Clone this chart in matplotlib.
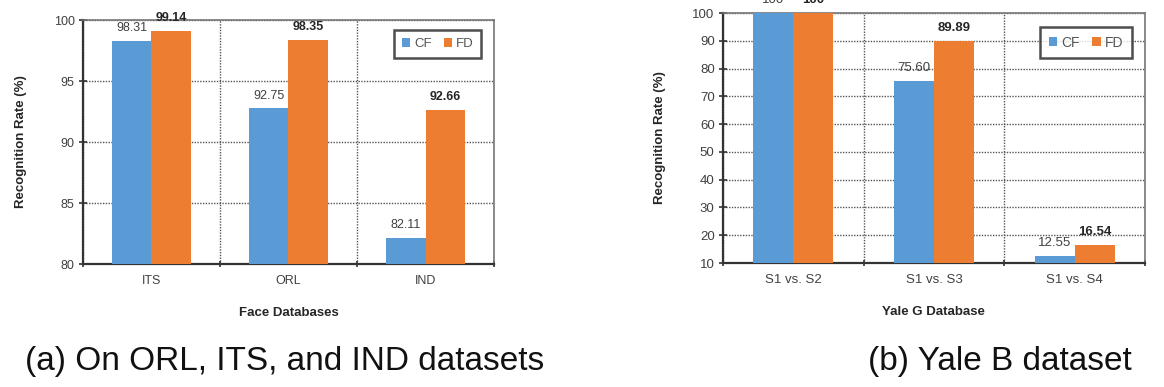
import numpy as np
import matplotlib.pyplot as plt

# left panel: face databases
face_dbs = ['ITS', 'ORL', 'IND']
face_cf = [98.31, 92.75, 82.11]
face_fd = [99.14, 98.35, 92.66]
face_cf_labels = ['98.31', '92.75', '82.11']
face_fd_labels = ['99.14', '98.35', '92.66']

# right panel: Yale B subsets
yale_sets = ['S1 vs. S2', 'S1 vs. S3', 'S1 vs. S4']
yale_cf = [100, 75.60, 12.55]
yale_fd = [100, 89.89, 16.54]
yale_cf_labels = ['100', '75.60', '12.55']
yale_fd_labels = ['100', '89.89', '16.54']

CF_COLOR = '#5B9BD5'
FD_COLOR = '#ED7D31'
FONT = 'Liberation Sans'

plt.rcParams['font.family'] = [FONT, 'DejaVu Sans']


def bar_panel(ax, cats, cf, fd, cf_lab, fd_lab, ylim, yticks, xlabel,
              tick_fs, lab_fs, axis_fs, legend_anchor):
    x = np.arange(len(cats))
    w = 0.285
    ax.bar(x - w / 2, cf, w, bottom=0, color=CF_COLOR, label='CF', zorder=3)
    ax.bar(x + w / 2, fd, w, bottom=0, color=FD_COLOR, label='FD', zorder=3)
    ax.set_ylim(*ylim)
    ax.set_xlim(-0.5, len(cats) - 0.5)
    ax.set_yticks(yticks)

    for xi, v, s in zip(x - w / 2, cf, cf_lab):
        ax.annotate(s, (xi, v), xytext=(0, 5), textcoords='offset points',
                    ha='center', va='bottom', fontsize=lab_fs, color='#404040',
                    clip_on=False, annotation_clip=False)
    for xi, v, s in zip(x + w / 2, fd, fd_lab):
        ax.annotate(s, (xi, v), xytext=(0, 5), textcoords='offset points',
                    ha='center', va='bottom', fontsize=lab_fs, color='#262626',
                    fontweight='bold', clip_on=False, annotation_clip=False)

    # category labels centred, tick marks on the boundaries
    ax.set_xticks(x)
    ax.set_xticklabels(cats, fontsize=tick_fs, color='#404040')
    ax.tick_params(axis='x', length=0, pad=8)
    ax.set_xticks(np.arange(-0.5, len(cats)), minor=True)
    ax.tick_params(axis='x', which='minor', length=5, direction='inout',
                   width=1.2, color='#333333')
    ax.tick_params(axis='y', length=6, direction='inout', width=1.2,
                   labelsize=tick_fs, labelcolor='#404040', color='#333333', pad=3)

    ax.grid(True, axis='y', which='major', linestyle=(0, (1, 1)),
            color='#555555', linewidth=1.0, zorder=0)
    ax.grid(True, axis='x', which='minor', linestyle=(0, (1, 1)),
            color='#555555', linewidth=1.0, zorder=0)

    for side in ['left', 'bottom']:
        ax.spines[side].set_linewidth(1.6)
        ax.spines[side].set_color('#333333')
    for side in ['top', 'right']:
        ax.spines[side].set_linestyle((0, (1, 1)))
        ax.spines[side].set_color('#777777')
        ax.spines[side].set_linewidth(1.2)

    ax.set_xlabel(xlabel, fontsize=axis_fs, fontweight='bold', color='#262626',
                  labelpad=14)
    ax.set_ylabel('Recognition Rate (%)', fontsize=axis_fs, fontweight='bold',
                  color='#262626', labelpad=19)

    leg = ax.legend(loc='upper right', bbox_to_anchor=legend_anchor, ncol=2,
                    fontsize=tick_fs + 0.5, frameon=True, fancybox=False,
                    handlelength=0.6, handleheight=0.6, handletextpad=0.3,
                    columnspacing=0.9, borderpad=0.6, labelcolor='#555555')
    leg.get_frame().set_edgecolor('#222222')
    leg.get_frame().set_linewidth(1.8)


fig = plt.figure(figsize=(11.64, 3.87), dpi=100)
ax1 = fig.add_axes([0.0713, 0.3178, 0.3531, 0.6305])
ax2 = fig.add_axes([0.6211, 0.3204, 0.3625, 0.6460])

bar_panel(ax1, face_dbs, face_cf, face_fd, face_cf_labels, face_fd_labels,
          (80, 100), np.arange(80, 101, 5), 'Face Databases',
          9, 9, 9.5, (0.985, 0.985))
bar_panel(ax2, yale_sets, yale_cf, yale_fd, yale_cf_labels, yale_fd_labels,
          (10, 100), np.arange(10, 101, 10), 'Yale G Database',
          9.5, 9.5, 9.5, (0.985, 0.97))

fig.text(25 / 1164, 0.044, '(a) On ORL, ITS, and IND datasets', fontsize=24,
         family=FONT, color='#111111', va='baseline')
fig.text(868 / 1164, 0.044, '(b) Yale B dataset', fontsize=24,
         family=FONT, color='#111111', va='baseline')

fig.savefig('out.png', dpi=100)
